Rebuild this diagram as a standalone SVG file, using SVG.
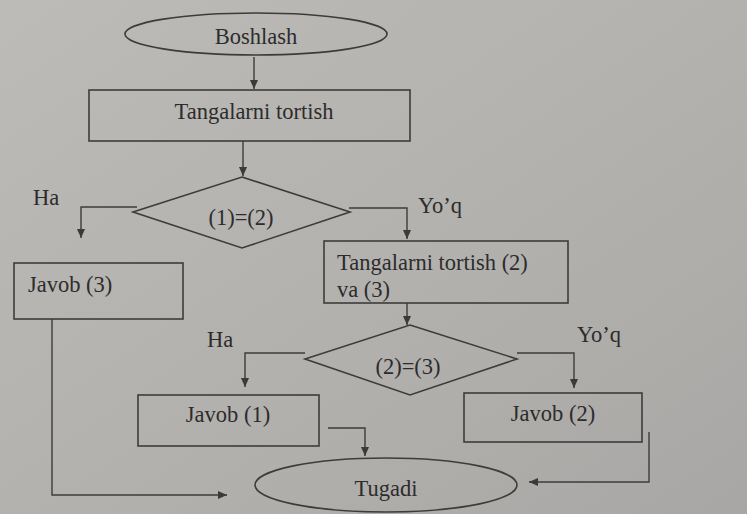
<svg xmlns="http://www.w3.org/2000/svg" width="747" height="514" viewBox="0 0 747 514">
<defs>
<linearGradient id="bg" x1="0" y1="0" x2="1" y2="1">
<stop offset="0" stop-color="#bdbbb8"/>
<stop offset="0.6" stop-color="#b2b0ad"/>
<stop offset="1" stop-color="#a9a7a5"/>
</linearGradient>
<marker id="ah" markerWidth="10" markerHeight="10" refX="9" refY="5" orient="auto" markerUnits="userSpaceOnUse">
<path d="M0,1 L9,5 L0,9 Z" fill="#3a3a3a"/>
</marker>
<style>
.s{fill:none;stroke:#3c3c3c;stroke-width:1.6}
.c{fill:none;stroke:#3c3c3c;stroke-width:1.4;marker-end:url(#ah)}
.t{font-family:"Liberation Serif","Times New Roman",serif;font-size:22.5px;fill:#2c2c2c}
.m{text-anchor:middle}
</style>
</defs>
<rect width="747" height="514" fill="url(#bg)"/>
<g id="connectors">
<path class="c" d="M254,57 V89"/>
<path class="c" d="M243,141 V176"/>
<path class="c" d="M137,207 H81 V238"/>
<path class="c" d="M349,208 H407 V239"/>
<path class="c" d="M407,303 V325"/>
<path class="c" d="M305,353 H245 V387"/>
<path class="c" d="M517,353 H574 V388"/>
<path class="c" d="M328,428 H365 V456"/>
<path class="c" d="M649,432 V482 H529"/>
<path class="c" d="M52,319 V495 H227"/>
</g>
<g id="labels">
<text class="t" x="33" y="205">Ha</text>
<text class="t" x="418" y="213">Yo’q</text>
<text class="t" x="207" y="347">Ha</text>
<text class="t" x="577" y="342">Yo’q</text>
</g>
<g id="start">
<ellipse class="s" cx="256" cy="34" rx="131" ry="21"/>
<text class="t m" x="256" y="44">Boshlash</text>
</g>
<g id="weigh1">
<rect class="s" x="89" y="90" width="321" height="51"/>
<text class="t m" x="254" y="119">Tangalarni tortish</text>
</g>
<g id="dec1">
<polygon class="s" points="242,177 350,212 242,248 133,212"/>
<text class="t m" x="241" y="225">(1)=(2)</text>
</g>
<g id="ans3">
<rect class="s" x="14" y="263" width="169" height="56"/>
<text class="t" x="28" y="292">Javob (3)</text>
</g>
<g id="weigh2">
<rect class="s" x="324" y="241" width="244" height="62"/>
<text class="t" x="337" y="270">Tangalarni tortish (2)</text>
<text class="t" x="337" y="297">va (3)</text>
</g>
<g id="dec2">
<polygon class="s" points="410,325 517,359 410,395 305,359"/>
<text class="t m" x="408" y="374">(2)=(3)</text>
</g>
<g id="ans1">
<rect class="s" x="138" y="395" width="181" height="51"/>
<text class="t m" x="228" y="422">Javob (1)</text>
</g>
<g id="ans2">
<rect class="s" x="464" y="393" width="178" height="49"/>
<text class="t m" x="553" y="421">Javob (2)</text>
</g>
<g id="end">
<ellipse class="s" cx="386" cy="485" rx="131" ry="27"/>
<text class="t m" x="386" y="496">Tugadi</text>
</g>
</svg>
